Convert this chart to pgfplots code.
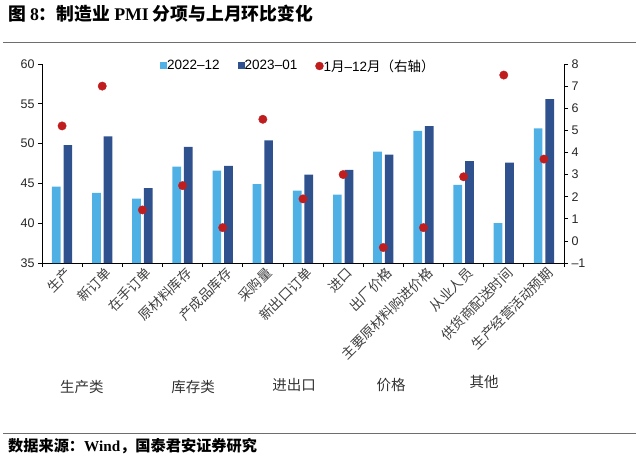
\documentclass[border=0pt]{standalone}
\usepackage{fontspec}
\setmainfont{Liberation Sans}
\newfontfamily\cjk{Noto Sans CJK SC}
\newfontfamily\tnr{Liberation Serif}
\usepackage{pgfplots}
\pgfplotsset{compat=1.18}

\definecolor{dec}{RGB}{79,176,230}
\definecolor{jan}{RGB}{47,82,143}
\definecolor{chg}{RGB}{192,30,30}
\definecolor{rule}{RGB}{110,110,110}

% PMI sub-indices: Dec 2022, Jan 2023 (left axis), month-on-month change (right axis)
\pgfplotstableread{
x dec  jan  chg
0  44.6 49.8 5.2
1  43.8 50.9 7.0
2  43.1 44.4 1.4
3  47.1 49.6 2.5
4  46.6 47.2 0.6
5  44.9 50.4 5.5
6  44.1 46.1 1.9
7  43.6 46.7 3.0
8  49.0 48.6 -0.3
9  51.6 52.2 0.6
10 44.8 47.8 2.9
11 40.0 47.6 7.5
12 51.9 55.6 3.7
}\pmidata

\pgfplotsset{
  base/.style={
    at={(0,0)}, anchor=south west, scale only axis,
    width=522pt, height=199pt,
    xmin=-0.5, xmax=12.5,
    axis line style={black, line width=0.7pt},
    tick style={black, line width=0.7pt},
    major tick length=4pt, tick align=outside,
    /pgf/number format/assume math mode=true,
    yticklabel style={font=\fontsize{12.5}{13}\selectfont, text=black!85},
  }
}

\begin{document}
\begin{tikzpicture}
\path[use as bounding box] (-42pt,-203pt) rectangle (598pt,263pt);

\begin{axis}[base,
  ymin=35, ymax=60, ytick={35,40,...,60},
  axis x line*=bottom, axis y line*=left,
  xtick={-0.5,0.5,...,12.5}, xticklabels={},
  extra x ticks={0,...,12},
  extra x tick labels={生产,新订单,在手订单,原材料库存,产成品库存,采购量,新出口订单,进口,出厂价格,主要原材料购进价格,从业人员,供货商配送时间,生产经营活动预期},
  extra x tick style={major tick length=0pt},
  xticklabel style={font=\cjk\fontsize{13.5}{14}\selectfont, text=black!75,
    rotate=45, anchor=north east, inner sep=0.5pt, yshift=-3pt},
]
\addplot[ybar, bar width=8.7pt, bar shift=-5.8pt, fill=dec, draw=none] table[x=x, y=dec] {\pmidata};
\addplot[ybar, bar width=8.7pt, bar shift=5.8pt, fill=jan, draw=none] table[x=x, y=jan] {\pmidata};
\end{axis}

\begin{axis}[base,
  ymin=-1, ymax=8, ytick={-1,0,...,8},
  yticklabels={–1,0,1,2,3,4,5,6,7,8},
  axis y line*=right, axis x line=none,
  legend style={draw=none, fill=none, at={(0.226,0.99)}, anchor=west,
    font=\fontsize{13.5}{14}\selectfont, inner sep=0pt,
    /tikz/every even column/.append style={column sep=16pt},
    /tikz/every odd column/.append style={column sep=-2pt}},
  legend columns=3, legend cell align=left,
]
\addlegendimage{area legend, fill=dec, draw=none,
  legend image code/.code={\fill[dec] (0pt,-3.5pt) rectangle (7pt,3.5pt);}}
\addlegendentry{2022–12}
\addlegendimage{area legend, fill=jan, draw=none,
  legend image code/.code={\fill[jan] (0pt,-3.5pt) rectangle (7pt,3.5pt);}}
\addlegendentry{2023–01}
\addplot[only marks, mark=*, mark size=4.2pt, color=chg,
  legend image code/.code={\fill[chg] (3.5pt,0pt) circle (4pt);}]
  table[x=x, y=chg] {\pmidata};
\addlegendentry{1{\cjk 月}–12{\cjk 月（右轴）}}
\end{axis}

% title, rules and source line
\node[anchor=west, inner sep=0pt] at (-34pt,249pt)
  {\cjk\bfseries\fontsize{17.8}{18}\selectfont 图 {\tnr\bfseries 8}：制造业 {\tnr\bfseries PMI} 分项与上月环比变化};
\draw[rule, line width=1pt] (-39pt,220pt) -- (594pt,220pt);
\draw[rule, line width=1pt] (-39pt,-170pt) -- (594pt,-170pt);
\node[anchor=west, inner sep=0pt] at (-34pt,-183pt)
  {\cjk\bfseries\fontsize{15.2}{16}\selectfont 数据来源：{\tnr\bfseries Wind}，国泰君安证券研究};

% index groups under the category labels
\begin{scope}[every node/.style={font=\cjk\fontsize{14.5}{15}\selectfont, text=black!80}]
\node at (40pt,-124pt) {生产类};
\node at (151pt,-124pt) {库存类};
\node at (252pt,-122pt) {进出口};
\node at (349pt,-122pt) {价格};
\node at (442pt,-119pt) {其他};
\end{scope}
\end{tikzpicture}
\end{document}
